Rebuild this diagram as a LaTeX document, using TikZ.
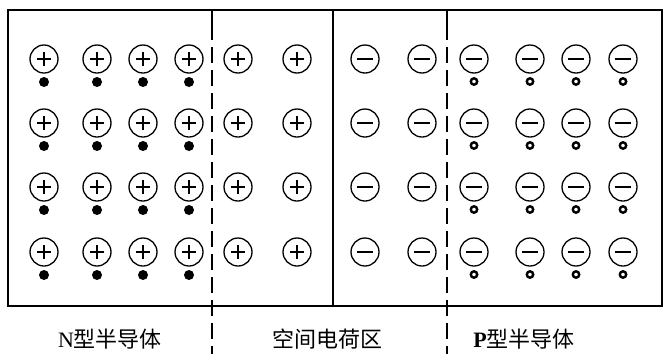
\documentclass[tikz,border=0pt]{standalone}
\usepackage{fontspec}
\setmainfont{Liberation Serif}
\newfontfamily\cjk{Noto Sans CJK SC}
\begin{document}
\begin{tikzpicture}[x=1pt,y=-1pt,
  ion/.style={circle,draw,line width=1.3pt,minimum size=28pt,inner sep=0pt},
  posion/.style={ion,path picture={\draw[line width=1.1pt] (path picture bounding box.center) ++(-7pt,0) -- ++(14pt,0);
     \draw[line width=1.1pt] (path picture bounding box.center) ++(0,-7pt) -- ++(0,14pt);}},
  negion/.style={ion,path picture={\draw[line width=1.4pt] (path picture bounding box.center) ++(-8pt,0) -- ++(16pt,0);}},
  electron/.style={circle,fill,minimum size=10pt,inner sep=0pt},
  hole/.style={circle,draw,line width=2.4pt,minimum size=6.4pt,inner sep=0pt},
  frame/.style={line width=2.8pt},
  bound/.style={line width=2.2pt,dash pattern=on 16pt off 7pt},
  lbl/.style={font=\fontsize{22pt}{24pt}\selectfont,inner sep=0pt}]
\useasboundingbox (0,0) rectangle (663,354);
% frame
\draw[frame] (8,10) rectangle (662,306);
\coordinate (mt) at (333,10);
\coordinate (mb) at (333,306);
\draw[frame] (mt) -- (mb);
% boundaries
\coordinate (lt) at (212,10);
\coordinate (lm) at (212,40);
\coordinate (lb) at (212,354);
\coordinate (rt) at (447,10);
\coordinate (rm) at (447,40);
\coordinate (rb) at (447,354);
\draw[line width=2.2pt] (lt) -- (lm);
\draw[line width=2.2pt] (rt) -- (rm);
\draw[bound] (212,47) -- (lb);
\draw[bound] (447,47) -- (rb);
% ions
\foreach \r/\y in {1/59,2/123,3/187,4/252}{
  \foreach \c/\x in {1/44,2/97,3/143,4/189}{
    \node[posion] (n\r\c) at (\x,\y) {};
    \node[electron] (e\r\c) at (\x,\y+23) {};
  }
  \foreach \c/\x in {1/238,2/297}{
    \node[posion] (sp\r\c) at (\x,\y) {};
  }
  \foreach \c/\x in {1/365,2/422}{
    \node[negion] (sn\r\c) at (\x,\y) {};
  }
  \foreach \c/\x in {1/474,2/530,3/576,4/623}{
    \node[negion] (p\r\c) at (\x,\y) {};
    \node[hole] (h\r\c) at (\x,\y+22.5) {};
  }
}
% labels
\node[lbl] (ln) at (110,339) {N\cjk 型半导体};
\node[lbl] (ls) at (327,339) {\cjk 空间电荷区};
\node[lbl] (lp) at (524,339) {\textbf{P}\cjk 型半导体};
\end{tikzpicture}
\end{document}
